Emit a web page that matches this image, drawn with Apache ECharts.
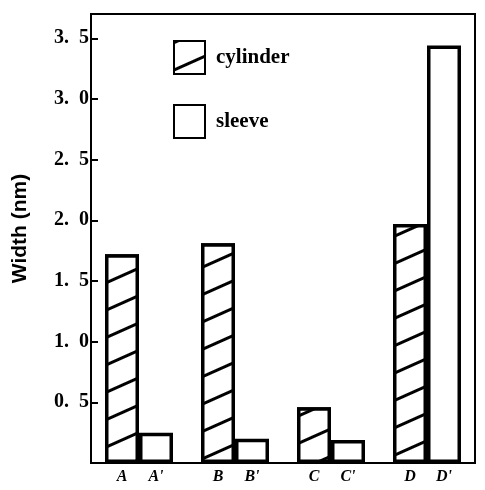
<!DOCTYPE html>
<html><head><meta charset="utf-8">
<script src="https://cdn.jsdelivr.net/npm/echarts@6/dist/echarts.min.js"></script>
<style>html,body{margin:0;padding:0;background:#fff}#c{width:485px;height:490px}</style>
</head><body><div id="c"></div>
<script>
var categories = ['A', 'B', 'C', 'D'];
var cylinderLabels = ['A', 'B', 'C', 'D'];
var sleeveLabels = ["A'", "B'", "C'", "D'"];
var cylinder = [1.72, 1.81, 0.46, 1.97];
var sleeve = [0.25, 0.20, 0.19, 3.44];
var yTicks = [0.5, 1.0, 1.5, 2.0, 2.5, 3.0, 3.5];

var chart = echarts.init(document.getElementById('c'));
var serif = '"Liberation Serif", "DejaVu Serif", serif';
var labelStyle = {
  show: true, position: 'bottom', distance: 6,
  fontFamily: serif, fontWeight: 'bold', fontStyle: 'italic', fontSize: 16, color: '#000'
};
chart.setOption({
  backgroundColor: '#fff',
  animation: false,
  grid: { left: 91, right: 10, top: 14, bottom: 27, show: true, borderColor: '#000', borderWidth: 2, backgroundColor: 'transparent' },
  legend: {
    orient: 'vertical', left: 173, top: 40, padding: 0, itemWidth: 31, itemHeight: 33, itemGap: 29, icon: 'rect',
    textStyle: { fontFamily: serif, fontWeight: 'bold', fontSize: 21, color: '#000', padding: [0, 0, 0, 6] },
    data: ['cylinder', 'sleeve']
  },
  xAxis: {
    type: 'category', data: categories,
    axisLine: { lineStyle: { color: '#000', width: 2 } },
    axisTick: { show: false }, axisLabel: { show: false }
  },
  yAxis: {
    type: 'value', min: 0, max: 3.7, interval: 0.5,
    name: 'Width (nm)', nameLocation: 'middle', nameGap: 60,
    nameTextStyle: { fontFamily: '"Liberation Sans", Arial, sans-serif', fontWeight: 'bold', fontSize: 21, color: '#000', padding: [0, 0, 0, 20] },
    axisLine: { show: true, lineStyle: { color: '#000', width: 2 } },
    axisTick: { show: true, inside: true, length: 7, lineStyle: { color: '#000', width: 2 } },
    splitLine: { show: false },
    axisLabel: {
      margin: 2, fontFamily: serif, fontWeight: 'bold', fontSize: 20, color: '#000',
      formatter: function (v) {
        for (var i = 0; i < yTicks.length; i++) {
          if (Math.abs(yTicks[i] - v) < 1e-6) return yTicks[i].toFixed(1).replace('.', '.  ');
        }
        return '';
      }
    }
  },
  series: [
    {
      name: 'cylinder', type: 'bar', data: cylinder, barWidth: 34, barGap: '0%',
      itemStyle: {
        color: '#fff', borderColor: '#000', borderWidth: 3.5,
        decal: { color: '#000', backgroundColor: '#fff', dashArrayX: [1, 0], dashArrayY: [2.5, 22], rotation: -0.42 }
      },
      label: Object.assign({}, labelStyle, { formatter: function (p) { return cylinderLabels[p.dataIndex]; } })
    },
    {
      name: 'sleeve', type: 'bar', data: sleeve, barWidth: 34,
      itemStyle: { color: '#fff', borderColor: '#000', borderWidth: 3.5 },
      label: Object.assign({}, labelStyle, { formatter: function (p) { return sleeveLabels[p.dataIndex]; } })
    }
  ]
});
</script></body></html>
